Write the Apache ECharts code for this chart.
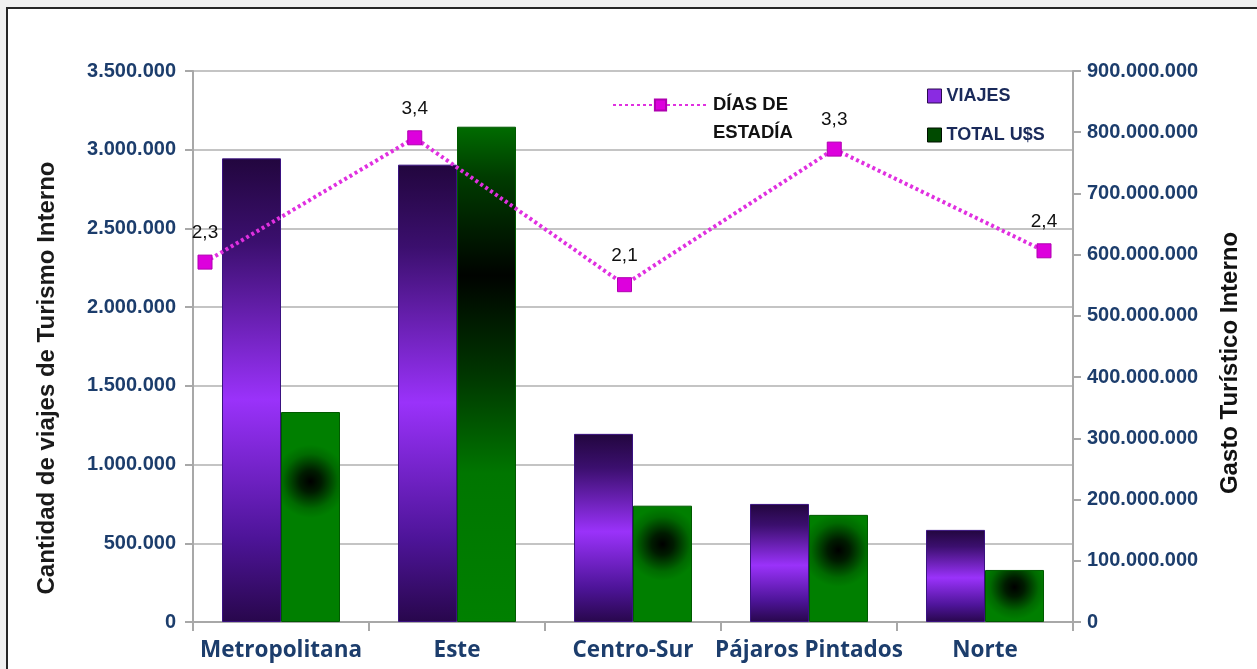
<!DOCTYPE html>
<html>
<head>
<meta charset="utf-8">
<script src="https://cdn.jsdelivr.net/npm/echarts@6/dist/echarts.min.js"></script>
<style>
html,body{margin:0;padding:0;background:#f0f0f0;}
#chart{width:1257px;height:669px;}
</style>
</head>
<body>
<div id="chart"></div>
<script>
// ---- data ----
const categories = ['Metropolitana', 'Este', 'Centro-Sur', 'Pájaros Pintados', 'Norte'];
const viajes = [2945000, 2905000, 1195000, 750000, 585000];
const totalUS = [343000000, 809000000, 190000000, 175000000, 85000000];
const diasEstadia = [2.3, 3.4, 2.1, 3.3, 2.4];
const leftTicks = { min: 0, max: 3500000, interval: 500000 };
const rightTicks = { min: 0, max: 900000000, interval: 100000000 };

function fmt(v) {
  return String(Math.round(v)).replace(/\B(?=(\d{3})+(?!\d))/g, '.');
}

const navy = '#1c3d6c';
const purpleGrad = {
  type: 'linear', x: 0, y: 0, x2: 0, y2: 1,
  colorStops: [
    { offset: 0, color: '#22063e' },
    { offset: 0.18, color: '#3b0f6e' },
    { offset: 0.52, color: '#9a32fa' },
    { offset: 0.82, color: '#4d1498' },
    { offset: 1, color: '#28074c' }
  ]
};
const greenRadial = {
  type: 'radial', x: 0.5, y: 0.33, r: 0.62,
  colorStops: [
    { offset: 0, color: '#000000' },
    { offset: 0.3, color: '#001c00' },
    { offset: 0.75, color: '#006a00' },
    { offset: 1, color: '#007f00' }
  ]
};
const greenLinear = {
  type: 'linear', x: 0, y: 0, x2: 0, y2: 1,
  colorStops: [
    { offset: 0, color: '#006c00' },
    { offset: 0.1, color: '#003c00' },
    { offset: 0.3, color: '#000300' },
    { offset: 0.5, color: '#003600' },
    { offset: 0.7, color: '#007600' },
    { offset: 1, color: '#008000' }
  ]
};

const chart = echarts.init(document.getElementById('chart'), null, { renderer: 'canvas' });

const option = {
  backgroundColor: '#f0f0f0',
  animation: false,
  graphic: [
    {
      type: 'rect', z: -10,
      shape: { x: 7, y: 8, width: 1300, height: 700 },
      style: { fill: '#ffffff', stroke: '#262626', lineWidth: 2 }
    },
    {
      type: 'text', z: 10,
      x: 47, y: 378, rotation: Math.PI / 2,
      style: {
        text: 'Cantidad de viajes de Turismo Interno',
        font: 'bold 24px "Liberation Sans", Arial, sans-serif',
        fill: '#1a1a1a', align: 'center', verticalAlign: 'middle'
      }
    },
    {
      type: 'text', z: 10,
      x: 1230, y: 363, rotation: Math.PI / 2,
      style: {
        text: 'Gasto Turístico Interno',
        font: 'bold 24px "Liberation Sans", Arial, sans-serif',
        fill: '#111111', align: 'center', verticalAlign: 'middle'
      }
    }
  ],
  legend: [
    {
      left: 612, top: 63, orient: 'horizontal', padding: 0,
      itemWidth: 95, itemHeight: 14,
      data: ['DÍAS DE ESTADÍA'],
      formatter: () => '\nDÍAS DE\nESTADÍA',
      textStyle: {
        fontFamily: '"Liberation Sans", Arial, sans-serif',
        fontWeight: 'bold', fontSize: 18.5, color: '#111',
        lineHeight: 28
      }
    },
    {
      left: 927, top: 87, orient: 'vertical', itemGap: 21, padding: 0,
      itemWidth: 14, itemHeight: 14, icon: 'rect',
      data: [
        { name: 'VIAJES', itemStyle: { color: '#8a2be2', borderColor: '#2a0a50', borderWidth: 1 } },
        { name: 'TOTAL U$S', itemStyle: { color: '#004a00', borderColor: '#001000', borderWidth: 1 } }
      ],
      textStyle: {
        fontFamily: '"Liberation Sans", Arial, sans-serif',
        fontWeight: 'bold', fontSize: 18, color: '#1a2a5a'
      }
    }
  ],
  grid: [
    { left: 193, right: 184, top: 71, bottom: 47, containLabel: false },
    { left: 205, right: 213, top: 70, bottom: 147, containLabel: false }
  ],
  xAxis: [
    {
      type: 'category', gridIndex: 0, data: categories,
      axisLine: { lineStyle: { color: '#a8a8a8', width: 2 } },
      axisTick: { show: true, length: 9, lineStyle: { color: '#a8a8a8', width: 2 } },
      axisLabel: {
        interval: 0, hideOverlap: false,
        color: navy, fontFamily: '"Open Sans", sans-serif', fontWeight: 'bold',
        fontSize: 22.5, margin: 17
      }
    },
    {
      type: 'category', gridIndex: 1, data: categories, boundaryGap: false,
      show: false
    }
  ],
  yAxis: [
    {
      type: 'value', gridIndex: 0, position: 'left',
      min: leftTicks.min, max: leftTicks.max, interval: leftTicks.interval,
      axisLine: { show: true, lineStyle: { color: '#a8a8a8', width: 2 } },
      axisTick: { show: true, length: 8, lineStyle: { color: '#a8a8a8', width: 2 } },
      splitLine: { show: true, lineStyle: { color: '#c4c4c4', width: 2 } },
      axisLabel: {
        color: navy, fontFamily: '"Liberation Sans", Arial, sans-serif', fontWeight: 'bold',
        fontSize: 20, margin: 17, formatter: fmt
      }
    },
    {
      type: 'value', gridIndex: 0, position: 'right',
      min: rightTicks.min, max: rightTicks.max, interval: rightTicks.interval,
      axisLine: { show: true, lineStyle: { color: '#a8a8a8', width: 2 } },
      axisTick: { show: true, length: 8, lineStyle: { color: '#a8a8a8', width: 2 } },
      splitLine: { show: false },
      axisLabel: {
        color: navy, fontFamily: '"Liberation Sans", Arial, sans-serif', fontWeight: 'bold',
        fontSize: 20, margin: 14, formatter: fmt
      }
    },
    {
      type: 'value', gridIndex: 1, min: 0, max: 4, show: false
    }
  ],
  series: [
    {
      name: 'VIAJES', type: 'bar', xAxisIndex: 0, yAxisIndex: 0,
      data: viajes, barWidth: 59, barGap: '0%',
      itemStyle: { color: purpleGrad, borderColor: '#3a1280', borderWidth: 1 }
    },
    {
      name: 'TOTAL U$S', type: 'bar', xAxisIndex: 0, yAxisIndex: 1,
      data: totalUS.map((v, i) => i === 1
        ? { value: v, itemStyle: { color: greenLinear } }
        : { value: v }),
      barWidth: 59, barGap: '0%',
      itemStyle: { color: greenRadial, borderColor: '#005a00', borderWidth: 1 }
    },
    {
      name: 'DÍAS DE ESTADÍA', type: 'line', xAxisIndex: 1, yAxisIndex: 2,
      data: diasEstadia, z: 5,
      symbol: 'rect', symbolSize: 14,
      lineStyle: { color: '#e030e0', width: 4, type: [3, 3] },
      itemStyle: { color: '#dd00dd', borderColor: '#b000b0', borderWidth: 1 },
      label: {
        show: true, position: 'top', distance: 12,
        fontFamily: '"Liberation Sans", Arial, sans-serif', fontSize: 19, color: '#111',
        formatter: p => String(p.value).replace('.', ',')
      }
    }
  ]
};
chart.setOption(option);
</script>
</body>
</html>
